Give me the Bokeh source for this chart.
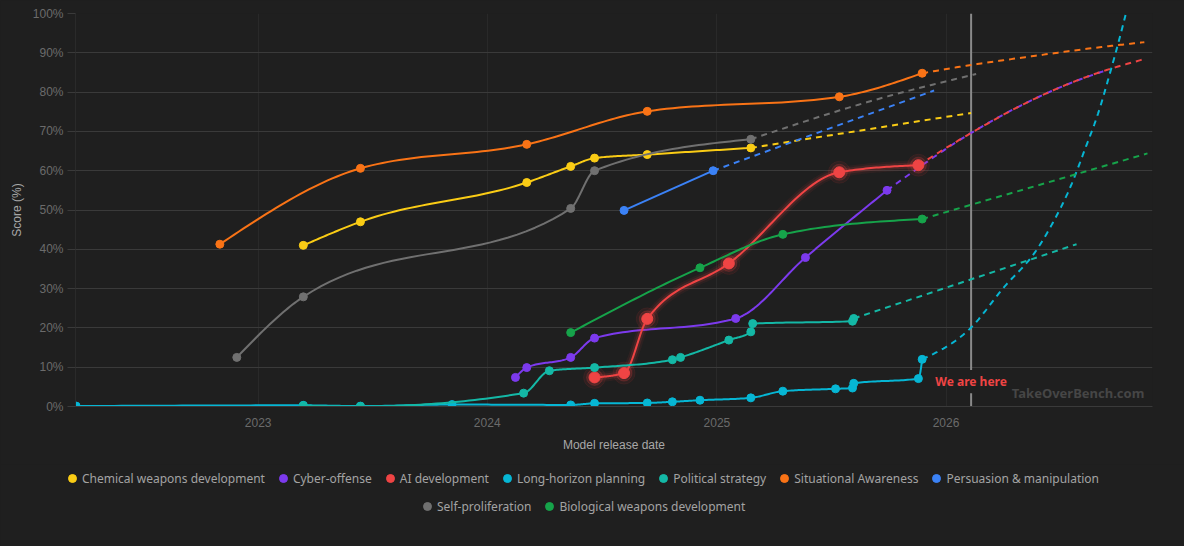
from datetime import datetime

import numpy as np
from bokeh.embed import file_html
from bokeh.layouts import column, row
from bokeh.models import (DatetimeTickFormatter, FixedTicker, Label, Legend,
                          LegendItem, PrintfTickFormatter, Range1d)
from bokeh.plotting import figure
from bokeh.resources import INLINE

# ---------------------------------------------------------------- data
series_names = [
    "Chemical weapons development", "Cyber-offense", "AI development",
    "Long-horizon planning", "Political strategy", "Situational Awareness",
    "Persuasion & manipulation", "Self-proliferation",
    "Biological weapons development",
]
series_colors = [
    "#facc15", "#7c3aed", "#ef4444", "#06b6d4", "#14b8a6",
    "#f97316", "#3b82f6", "#707070", "#16a34a",
]

chem_dates = ["2023-03-14", "2023-06-13", "2024-03-04", "2024-05-13",
              "2024-06-20", "2024-09-12", "2025-02-24"]
chem_scores = [41.0, 47.0, 57.0, 61.1, 63.2, 64.1, 65.8]
chem_proj_dates = ["2025-02-24", "2026-02-10"]
chem_proj_scores = [65.8, 74.7]

cyber_dates = ["2024-02-15", "2024-03-04", "2024-05-13", "2024-06-20",
               "2025-01-31", "2025-05-22", "2025-09-29"]
cyber_scores = [7.4, 9.9, 12.5, 17.4, 22.4, 37.9, 55.0]
cyber_proj_dates = ["2025-09-29", "2026-02-10", "2026-05-17", "2026-07-17",
                    "2026-09-16"]
cyber_proj_scores = [55.0, 69.6, 77.9, 82.2, 85.7]

aidev_dates = ["2024-06-20", "2024-08-06", "2024-09-12", "2025-01-20",
               "2025-07-15", "2025-11-18"]
aidev_scores = [7.4, 8.5, 22.3, 36.4, 59.6, 61.4]
aidev_proj_dates = ["2025-11-18", "2026-02-10", "2026-05-17", "2026-08-15",
                    "2026-11-13"]
aidev_proj_scores = [61.4, 69.6, 77.9, 84.0, 88.4]

horizon_dates = ["2022-03-17", "2023-03-14", "2023-06-13", "2023-11-06",
                 "2024-05-13", "2024-06-20", "2024-09-12", "2024-10-22",
                 "2024-12-05", "2025-02-24", "2025-04-16", "2025-07-09",
                 "2025-08-05", "2025-08-07", "2025-11-18", "2025-11-24"]
horizon_scores = [0.1, 0.3, 0.1, 0.5, 0.4, 0.8, 0.9, 1.2, 1.6, 2.2, 3.9,
                  4.5, 4.7, 5.9, 7.1, 12.0]
horizon_proj_dates = ["2025-11-24", "2026-02-10", "2026-04-02", "2026-05-26",
                      "2026-06-20", "2026-07-18", "2026-08-10", "2026-09-01",
                      "2026-09-19", "2026-10-06", "2026-10-14"]
horizon_proj_scores = [12.0, 20.1, 30.1, 40.0, 46.7, 55.8, 65.3, 74.9, 84.7,
                       94.6, 99.6]

politics_dates = ["2023-03-14", "2023-06-13", "2024-02-28", "2024-04-09",
                  "2024-06-20", "2024-10-22", "2024-11-04", "2025-01-20",
                  "2025-02-24", "2025-02-27", "2025-08-05", "2025-08-07"]
politics_scores = [0.2, 0.0, 3.4, 9.1, 9.9, 11.9, 12.5, 16.9, 19.0, 21.1,
                   21.7, 22.4]
politics_proj_dates = ["2025-08-07", "2026-07-28"]
politics_proj_scores = [22.4, 41.3]

aware_dates = ["2022-11-01", "2023-06-13", "2024-03-04", "2024-09-12",
               "2025-07-15", "2025-11-24"]
aware_scores = [41.3, 60.6, 66.7, 75.1, 78.8, 84.8]
aware_proj_dates = ["2025-11-24", "2026-02-10", "2026-05-17", "2026-08-23",
                    "2026-11-13"]
aware_proj_scores = [84.8, 86.9, 89.1, 91.2, 92.7]

persuade_dates = ["2024-08-06", "2024-12-26"]
persuade_scores = [49.9, 60.0]
persuade_proj_dates = ["2024-12-26", "2025-12-13"]
persuade_proj_scores = [60.0, 80.4]

selfprol_dates = ["2022-11-28", "2023-03-14", "2024-05-13", "2024-06-20",
                  "2025-02-24"]
selfprol_scores = [12.5, 27.9, 50.4, 60.0, 68.0]
selfprol_proj_dates = ["2025-02-24", "2025-09-25", "2026-02-18"]
selfprol_proj_scores = [68.0, 78.7, 84.6]

bio_dates = ["2024-05-13", "2024-12-05", "2025-04-16", "2025-11-24"]
bio_scores = [18.8, 35.3, 43.8, 47.7]
bio_proj_dates = ["2025-11-24", "2026-11-18"]
bio_proj_scores = [47.7, 64.4]

year_ticks = ["2023-01-01", "2024-01-01", "2025-01-01", "2026-01-01"]
score_ticks = [0, 10, 20, 30, 40, 50, 60, 70, 80, 90, 100]
now_date = "2026-02-10"
now_label = "We are here"
watermark = "TakeOverBench.com"

series = [
    (chem_dates, chem_scores, chem_proj_dates, chem_proj_scores),
    (cyber_dates, cyber_scores, cyber_proj_dates, cyber_proj_scores),
    (aidev_dates, aidev_scores, aidev_proj_dates, aidev_proj_scores),
    (horizon_dates, horizon_scores, horizon_proj_dates, horizon_proj_scores),
    (politics_dates, politics_scores, politics_proj_dates, politics_proj_scores),
    (aware_dates, aware_scores, aware_proj_dates, aware_proj_scores),
    (persuade_dates, persuade_scores, persuade_proj_dates, persuade_proj_scores),
    (selfprol_dates, selfprol_scores, selfprol_proj_dates, selfprol_proj_scores),
    (bio_dates, bio_scores, bio_proj_dates, bio_proj_scores),
]

# ---------------------------------------------------------------- helpers
BG = "#1f1f1f"
GRID = "#3a3a3a"
TICK_FONT = "Liberation Sans"
UI_FONT = "Noto Sans"


def ms(d):
    return (np.datetime64(d, "ms") - np.datetime64("1970-01-01", "ms")) / np.timedelta64(1, "ms")


def ms_list(ds):
    return [float(ms(d)) for d in ds]


def monotone(xs, ys, steps=30):
    """Monotone-x cubic path (same construction as d3.curveMonotoneX)."""
    x = np.asarray(xs, float)
    y = np.asarray(ys, float)
    n = len(x)
    if n < 3:
        return x, y
    h = np.diff(x)
    s = np.diff(y) / h
    t = np.zeros(n)

    def sgn(v):
        return -1.0 if v < 0 else 1.0

    for i in range(1, n - 1):
        p = (s[i - 1] * h[i] + s[i] * h[i - 1]) / (h[i - 1] + h[i])
        t[i] = (sgn(s[i - 1]) + sgn(s[i])) * min(abs(s[i - 1]), abs(s[i]), 0.5 * abs(p))
    t[0] = (3 * s[0] - t[1]) / 2
    t[-1] = (3 * s[-1] - t[-2]) / 2
    u = np.linspace(0, 1, steps + 1)[1:]
    px, py = [x[0]], [y[0]]
    for i in range(n - 1):
        d = h[i] / 3
        c0 = (x[i], y[i])
        c1 = (x[i] + d, y[i] + d * t[i])
        c2 = (x[i + 1] - d, y[i + 1] - d * t[i + 1])
        c3 = (x[i + 1], y[i + 1])
        b0, b1, b2, b3 = (1 - u) ** 3, 3 * (1 - u) ** 2 * u, 3 * (1 - u) * u ** 2, u ** 3
        px.extend(b0 * c0[0] + b1 * c1[0] + b2 * c2[0] + b3 * c3[0])
        py.extend(b0 * c0[1] + b1 * c1[1] + b2 * c2[1] + b3 * c3[1])
    return np.array(px), np.array(py)


# ---------------------------------------------------------------- main chart
p = figure(
    width=1184, height=464,
    x_axis_type="datetime",
    x_range=Range1d(ms("2022-03-16"), ms("2026-11-26")),
    y_range=Range1d(0, 100),
    toolbar_location=None, output_backend="svg",
    min_border_left=75, min_border_right=32, min_border_top=13, min_border_bottom=58,
    background_fill_color=BG, border_fill_color=BG, outline_line_color=None,
)

p.yaxis.ticker = FixedTicker(ticks=score_ticks)
p.yaxis.formatter = PrintfTickFormatter(format="%d%%")
p.yaxis.major_tick_out = 8
p.yaxis.major_tick_in = 0
p.yaxis.major_tick_line_color = GRID
p.yaxis.minor_tick_line_color = None
p.yaxis.axis_line_color = "#2a2a2a"
p.yaxis.major_label_standoff = 4
p.yaxis.axis_label = "Score (%)"
p.yaxis.axis_label_standoff = 6

p.xaxis.ticker = FixedTicker(ticks=ms_list(year_ticks))
p.xaxis.formatter = DatetimeTickFormatter(years="%Y", months="%Y", days="%Y",
                                          hours="%Y", minutes="%Y")
p.xaxis.major_tick_out = 0
p.xaxis.major_tick_in = 0
p.xaxis.minor_tick_line_color = None
p.xaxis.axis_line_color = GRID
p.xaxis.major_label_standoff = 11
p.xaxis.axis_label = "Model release date"
p.xaxis.axis_label_standoff = 8

for ax in (p.xaxis, p.yaxis):
    ax.major_label_text_font = TICK_FONT
    ax.major_label_text_font_size = "12px"
    ax.major_label_text_color = "#6b6b6b"
    ax.axis_label_text_font = TICK_FONT
    ax.axis_label_text_font_size = "12px"
    ax.axis_label_text_font_style = "normal"
    ax.axis_label_text_color = "#a8a8a8"

p.ygrid.ticker = FixedTicker(ticks=score_ticks)
p.ygrid.grid_line_color = GRID
p.xgrid.ticker = FixedTicker(ticks=ms_list(year_ticks))
p.xgrid.grid_line_color = "#292929"

# "now" marker, with a gap around its caption
now_x = ms(now_date)
p.segment(x0=[now_x, now_x], y0=[100, 3.4], x1=[now_x, now_x], y1=[9.3, 0],
          line_color="#8a8a8a", line_width=2)

for (dts, vals, pdts, pvals), color in zip(series, series_colors):
    # projection
    qx, qy = monotone(ms_list(pdts), pvals)
    p.line(qx, qy, line_color=color, line_width=2, line_dash="6 5")

for (dts, vals, pdts, pvals), color, name in zip(series, series_colors, series_names):
    xs = ms_list(dts)
    lx, ly = monotone(xs, vals)
    if name == "AI development":
        p.line(lx, ly, line_color=color, line_width=10, line_alpha=0.07, line_join="round")
        p.line(lx, ly, line_color=color, line_width=6, line_alpha=0.14, line_join="round")
        p.line(lx, ly, line_color=color, line_width=2, line_join="round")
        p.scatter(xs, vals, size=22, color=color, alpha=0.08)
        p.scatter(xs, vals, size=16, color=color, alpha=0.18)
        p.scatter(xs, vals, size=11, color=color)
    else:
        p.line(lx, ly, line_color=color, line_width=2, line_join="round")
        p.scatter(xs, vals, size=8, color=color)

p.add_layout(Label(x=now_x, y=6.4, text=now_label, text_align="center",
                   text_baseline="middle", text_font=UI_FONT, text_font_size="12px",
                   text_font_style="bold", text_color="#ef4444"))
p.add_layout(Label(x=ms("2026-11-13"), y=3.5, text=watermark, text_align="right",
                   text_baseline="middle", text_font=UI_FONT, text_font_size="13px",
                   text_font_style="bold", text_color="#464646"))

# ---------------------------------------------------------------- legend strip
lg = figure(
    width=1184, height=82, x_range=Range1d(0, 1), y_range=Range1d(0, 1),
    x_axis_type=None, y_axis_type=None,
    toolbar_location=None, output_backend="svg",
    min_border_left=0, min_border_right=0, min_border_top=0, min_border_bottom=0,
    background_fill_color=BG, border_fill_color=BG, outline_line_color=None,
)
lg.grid.visible = False

items = []
for name, color in zip(series_names, series_colors):
    r = lg.scatter(x=[-5], y=[-5], size=8, color=color)
    items.append(LegendItem(label=name, renderers=[r]))


def make_legend(its, loc):
    return Legend(
        items=its, orientation="horizontal", location=loc,
        background_fill_alpha=0, border_line_alpha=0,
        label_text_font=UI_FONT, label_text_font_size="12px",
        label_text_color="#a3a3a3",
        glyph_width=20, glyph_height=20, label_height=20,
        label_standoff=0, spacing=8, padding=4, margin=0,
    )


# offsets in pixels from the strip frame's lower-left corner
lg.add_layout(make_legend(items[:7], (58, 54)))
lg.add_layout(make_legend(items[7:], (413, 26)))

# the strip sits in its own row so its frame keeps the full page width
page = column(p, row(lg, spacing=0), spacing=0, styles={"background-color": BG})
open("out.html", "w").write(file_html(page, INLINE))
